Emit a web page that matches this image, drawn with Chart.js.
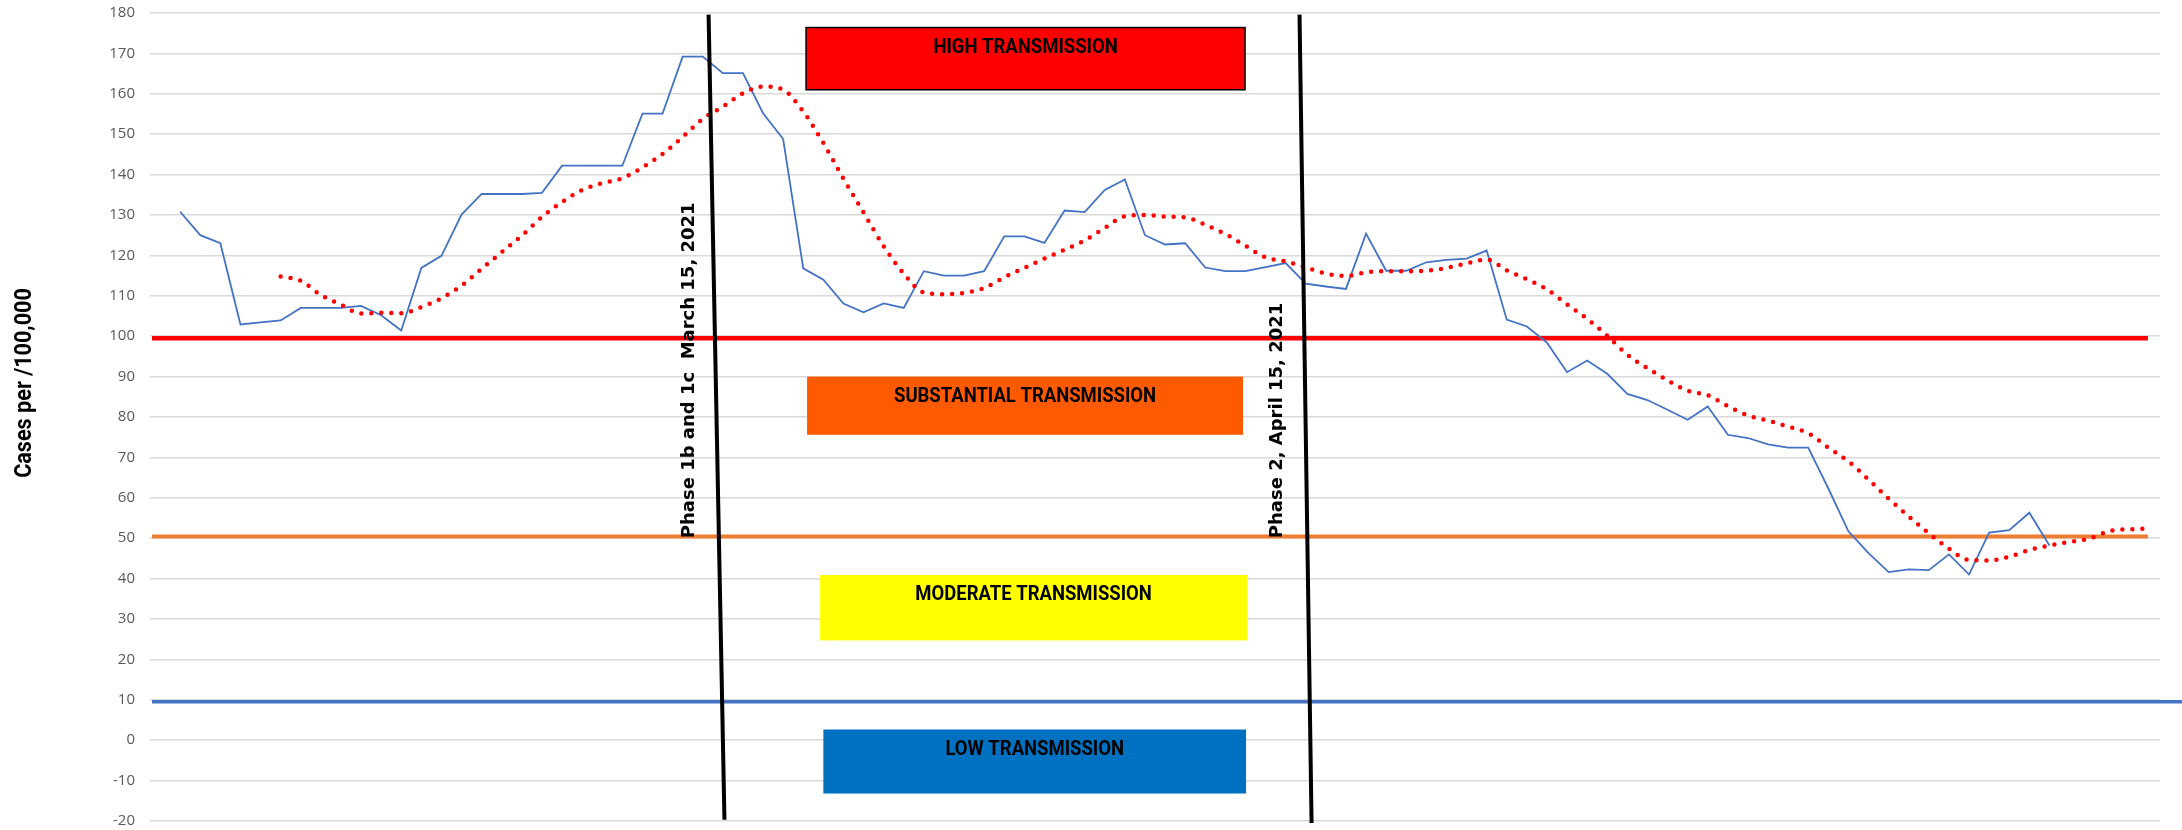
<!DOCTYPE html>
<html>
<head>
<meta charset="utf-8">
<script src="https://cdn.jsdelivr.net/npm/chart.js@4.4.1/dist/chart.umd.min.js"></script>
<style>
  html, body { margin: 0; padding: 0; background: #fff; }
  #wrap { width: 2182px; height: 830px; position: relative; }
</style>
</head>
<body>
<div id="wrap"><canvas id="Chart_CAS"></canvas></div>
<script>
// Cases per 100,000 (blue line), index 0 is empty
const caseRate = [null,
  130.8, 125.0, 123.0, 102.9, 103.4, 103.9, 107.0, 107.0, 107.0, 107.5,
  105.2, 101.4, 116.9, 119.9, 130.1, 135.2, 135.2, 135.2, 135.5, 142.2,
  142.2, 142.2, 142.2, 155.1, 155.1, 169.2, 169.2, 165.1, 165.1, 155.2,
  148.8, 116.8, 114.0, 108.1, 105.9, 108.1, 107.0, 116.1, 115.0, 115.0,
  116.1, 124.7, 124.7, 123.1, 131.1, 130.7, 136.2, 138.8, 125.0, 122.7,
  123.0, 117.0, 116.1, 116.1, 117.1, 118.1, 113.0, 112.3, 111.7, 125.4,
  116.2, 116.2, 118.3, 118.9, 119.2, 121.2, 104.1, 102.4, 98.4, 91.1,
  94.0, 90.7, 85.7, 84.2, 81.8, 79.3, 82.6, 75.6, 74.8, 73.2,
  72.4, 72.4, 62.3, 51.7, 46.3, 41.6, 42.3, 42.1, 46.0, 41.0,
  51.4, 52.0, 56.3, 48.2];

// Moving average (red dotted line)
const trendRate = [null, null, null, null, null, null,
  114.8, 113.7, 110.2, 107.8, 105.6, 105.8, 105.7, 107.2, 109.4, 112.5,
  116.7, 120.8, 124.9, 129.5, 133.2, 136.2, 137.9, 139.1, 141.8, 145.1,
  149.3, 153.8, 156.8, 160.1, 161.8, 161.0, 155.6, 147.8, 139.0, 130.6,
  122.3, 115.5, 110.8, 110.4, 110.7, 111.9, 114.6, 116.9, 119.2, 121.4,
  123.7, 126.8, 129.7, 130.0, 129.6, 129.4, 127.6, 125.3, 122.4, 119.5,
  118.5, 117.0, 115.5, 114.9, 115.8, 116.1, 116.1, 116.2, 116.9, 118.0,
  119.0, 116.3, 114.1, 111.6, 107.9, 104.3, 100.1, 95.4, 92.1, 89.1,
  86.5, 85.4, 82.7, 80.4, 79.1, 77.6, 76.0, 72.4, 69.0, 64.5,
  59.8, 55.4, 51.2, 47.4, 44.6, 44.5, 45.4, 47.1, 48.2, 49.1,
  49.9, 51.8, 52.2, 52.4];

const dayLabels = trendRate.map((v, i) => 'Day ' + (i + 1));

// Transmission thresholds (red, orange, blue lines)
const thresholdValues = [99.5, 50.4, 9.5];
const zoneLabels = ['HIGH TRANSMISSION', 'SUBSTANTIAL TRANSMISSION', 'MODERATE TRANSMISSION', 'LOW TRANSMISSION'];
const phaseLabels = ['Phase 1b and 1c  March 15, 2021', 'Phase 2, April 15, 2021'];
const yTitle = 'Cases per /100,000';

// Styles and placement (in axis units)
const thresholdStyle = [
  { color: '#FF0000', width: 4.5, toEdge: false },
  { color: '#ED7D31', width: 4, toEdge: false },
  { color: '#4472C4', width: 3.5, toEdge: true }
];
const zoneBoxes = [
  { x0: 32.14, x1: 53.98, y0: 176.4, y1: 161.0, fill: '#FF0000', border: '#000000' },
  { x0: 32.19, x1: 53.88, y0: 90.0, y1: 75.6, fill: '#FF5A00', border: null },
  { x0: 32.84, x1: 54.08, y0: 40.9, y1: 24.7, fill: '#FFFF00', border: null },
  { x0: 33.00, x1: 54.03, y0: 2.65, y1: -13.2, fill: '#0070C0', border: null }
];
const phaseLines = [
  { xTop: 27.29, xBottom: 28.08, yTop: 179.6, yBottom: -19.7, textX: 26.56 },
  { xTop: 56.69, xBottom: 57.29, yTop: 179.6, yBottom: -20.5, textX: 55.82 }
];
const boldFont = '"Roboto", "Liberation Sans", sans-serif';

// narrow bold text, squeezed like the original condensed font
function drawNarrow(ctx, text, x, y, size, squeeze) {
  ctx.save();
  ctx.translate(x, y);
  ctx.scale(squeeze, 1);
  ctx.font = 'bold ' + size + 'px ' + boldFont;
  ctx.textAlign = 'center';
  ctx.textBaseline = 'middle';
  ctx.fillText(text, 0, 0);
  ctx.restore();
}

const overlayPlugin = {
  id: 'overlay',
  beforeDatasetsDraw(chart) {
    const { ctx, chartArea, scales: { x, y } } = chart;
    thresholdValues.forEach((v, i) => {
      const st = thresholdStyle[i];
      const py = y.getPixelForValue(v);
      ctx.save();
      ctx.strokeStyle = st.color;
      ctx.lineWidth = st.width;
      ctx.beginPath();
      ctx.moveTo(chartArea.left + 2, py);
      ctx.lineTo(st.toEdge ? chart.width : x.getPixelForValue(trendRate.length - 1) - 2, py);
      ctx.stroke();
      ctx.restore();
    });
  },
  afterDatasetsDraw(chart) {
    const { ctx, scales: { x, y } } = chart;
    // coloured zone boxes
    zoneBoxes.forEach((b, i) => {
      const l = x.getPixelForValue(b.x0), r = x.getPixelForValue(b.x1);
      const t = y.getPixelForValue(b.y0), bt = y.getPixelForValue(b.y1);
      ctx.save();
      ctx.fillStyle = b.fill;
      ctx.fillRect(l, t, r - l, bt - t);
      if (b.border) {
        ctx.strokeStyle = b.border;
        ctx.lineWidth = 1.5;
        ctx.strokeRect(l, t, r - l, bt - t);
      }
      ctx.fillStyle = '#000000';
      drawNarrow(ctx, zoneLabels[i], (l + r) / 2, t + 20, 21, 0.88);
      ctx.restore();
    });
    // phase lines and their labels
    phaseLines.forEach((p, i) => {
      ctx.save();
      ctx.strokeStyle = '#000000';
      ctx.lineWidth = 4;
      ctx.beginPath();
      ctx.moveTo(x.getPixelForValue(p.xTop), y.getPixelForValue(p.yTop));
      ctx.lineTo(x.getPixelForValue(p.xBottom), y.getPixelForValue(p.yBottom));
      ctx.stroke();
      ctx.translate(x.getPixelForValue(p.textX), y.getPixelForValue(50));
      ctx.rotate(-Math.PI / 2);
      ctx.fillStyle = '#000000';
      ctx.font = 'bold 18px "DejaVu Sans", sans-serif';
      ctx.textAlign = 'left';
      ctx.textBaseline = 'alphabetic';
      ctx.fillText(phaseLabels[i], 0, 0);
      ctx.restore();
    });
  },
  afterDraw(chart) {
    const ctx = chart.ctx;
    ctx.save();
    ctx.translate(25, 383);
    ctx.rotate(-Math.PI / 2);
    ctx.fillStyle = '#000000';
    drawNarrow(ctx, yTitle, 0, 0, 24, 0.9);
    ctx.restore();
  }
};

const CasesChart = new Chart(document.getElementById('Chart_CAS').getContext('2d'), {
  type: 'line',
  data: {
    labels: dayLabels,
    datasets: [{
      label: 'Cases per 100,000',
      data: caseRate,
      borderColor: '#4472C4',
      borderWidth: 1.8,
      pointRadius: 0,
      tension: 0,
      order: 2
    }, {
      label: 'Moving average',
      data: trendRate,
      borderColor: '#FF0000',
      borderWidth: 4.5,
      borderDash: [0, 10],
      borderCapStyle: 'round',
      pointRadius: 0,
      cubicInterpolationMode: 'monotone',
      order: 1
    }]
  },
  options: {
    responsive: true,
    maintainAspectRatio: false,
    devicePixelRatio: 1,
    animation: false,
    layout: { padding: { top: 13, right: 22, bottom: 9, left: 0 } },
    plugins: { legend: { display: false }, tooltip: { enabled: false } },
    scales: {
      x: { display: false, offset: true },
      y: {
        min: -20,
        max: 180,
        afterFit(scale) {
          scale.width = 150;
          scale.paddingTop = 0;
          scale.paddingBottom = 0;
        },
        ticks: {
          stepSize: 10,
          padding: 15,
          color: '#595959',
          font: { family: '"Open Sans", sans-serif', size: 15 }
        },
        grid: { color: '#D9D9D9', lineWidth: 1.5, drawTicks: false },
        border: { display: false }
      }
    }
  },
  plugins: [overlayPlugin]
});
</script>
</body>
</html>
